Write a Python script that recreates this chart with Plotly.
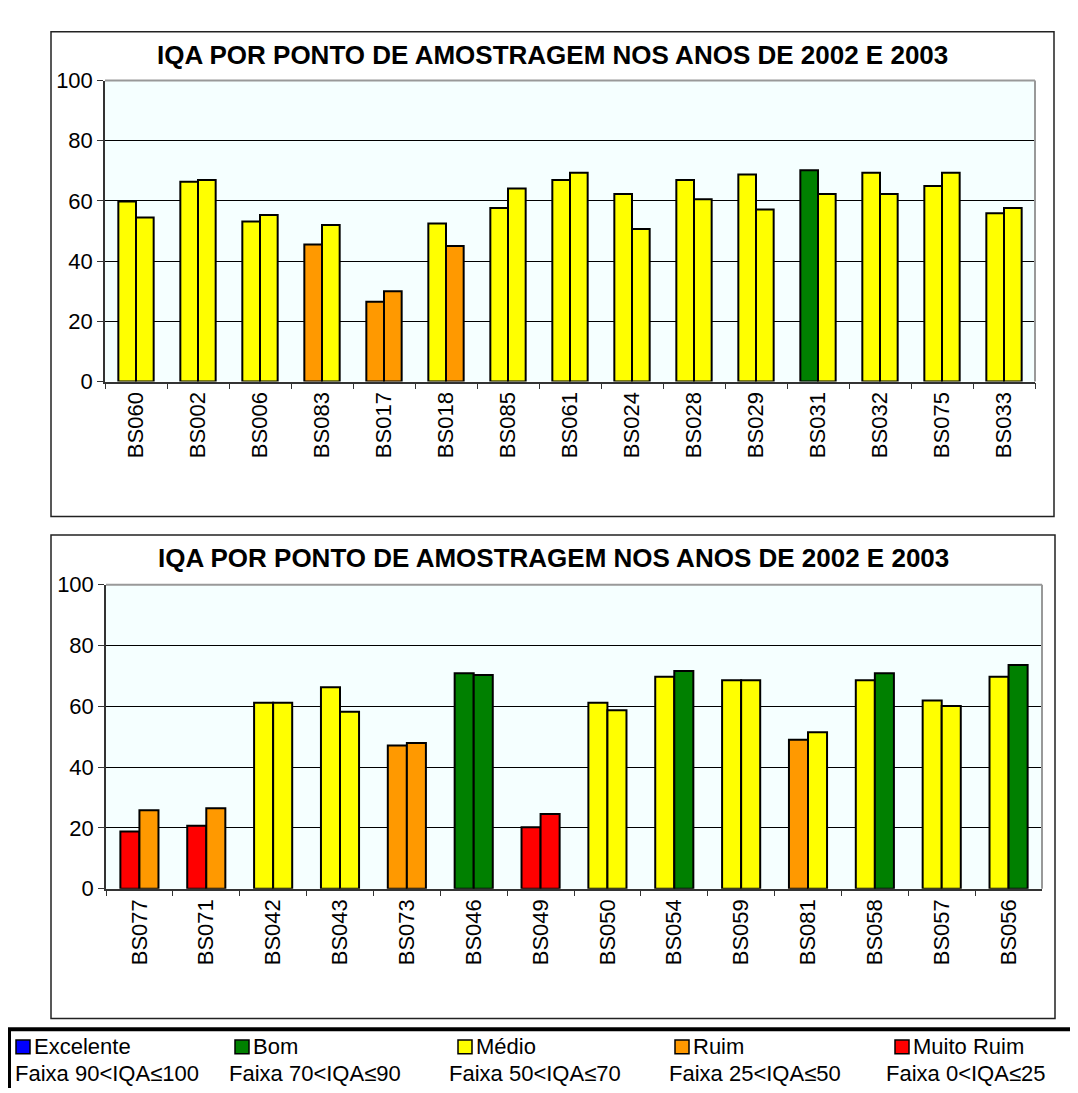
import plotly.graph_objects as go

W, H = 1078, 1093

# ---------------- data ----------------
cats_top = ["BS060", "BS002", "BS006", "BS083", "BS017", "BS018", "BS085", "BS061",
            "BS024", "BS028", "BS029", "BS031", "BS032", "BS075", "BS033"]
top_2002 = [59.8, 66.4, 53.2, 45.5, 26.5, 52.5, 57.7, 67.0, 62.3, 67.0, 68.8, 70.2, 69.4, 65.0, 55.9]
top_2003 = [54.5, 67.0, 55.3, 52.0, 30.0, 45.0, 64.1, 69.4, 50.7, 60.6, 57.2, 62.3, 62.3, 69.4, 57.7]

cats_bot = ["BS077", "BS071", "BS042", "BS043", "BS073", "BS046", "BS049",
            "BS050", "BS054", "BS059", "BS081", "BS058", "BS057", "BS056"]
bot_2002 = [18.8, 20.7, 61.2, 66.3, 47.1, 70.9, 20.2, 61.2, 69.7, 68.6, 49.0, 68.6, 61.9, 69.7]
bot_2003 = [25.8, 26.5, 61.2, 58.2, 47.9, 70.3, 24.6, 58.7, 71.6, 68.6, 51.5, 70.9, 60.1, 73.6]

y_ticks = [0, 20, 40, 60, 80, 100]

class_names = ["Excelente", "Bom", "Médio", "Ruim", "Muito Ruim"]
class_ranges = ["Faixa 90<IQA≤100", "Faixa 70<IQA≤90", "Faixa 50<IQA≤70",
                "Faixa 25<IQA≤50", "Faixa 0<IQA≤25"]
class_lower = [90, 70, 50, 25, 0]
class_colors = ["#0000FF", "#008000", "#FFFF00", "#FF9900", "#FF0000"]

TITLE = "IQA POR PONTO DE AMOSTRAGEM NOS ANOS DE 2002 E 2003"


def color_of(v):
    for lo, c in zip(class_lower, class_colors):
        if v > lo:
            return c
    return class_colors[-1]


def px(x):
    return x / W


def py(y):
    return 1 - y / H


FONT = "Arial, Liberation Sans, sans-serif"

fig = go.Figure()

for cats, s02, s03, xa, ya in [(cats_top, top_2002, top_2003, "x", "y"),
                               (cats_bot, bot_2002, bot_2003, "x2", "y2")]:
    for name, vals in [("2002", s02), ("2003", s03)]:
        fig.add_trace(go.Bar(
            x=cats, y=vals, name=name, xaxis=xa, yaxis=ya,
            marker=dict(color=[color_of(v) for v in vals],
                        line=dict(color="#000000", width=2)),
            showlegend=False, hoverinfo="x+y",
        ))

# plot area geometry (pixels)
top_plot = dict(x0=97, x1=1027, y0=62, y1=370)
bot_plot = dict(x0=98, x1=1034, y0=578, y1=889)
top_box = dict(x0=43, x1=1046, y0=12, y1=508)
bot_box = dict(x0=43, x1=1047, y0=527, y1=1022)

axis_common = dict(
    tickfont=dict(family=FONT, size=22, color="#000000"),
    showline=True, linecolor="#333333", linewidth=1.5,
    ticks="outside", ticklen=6, tickcolor="#333333", tickwidth=1.2,
)

yaxis_common = dict(
    range=[0, 100], tickvals=y_ticks, showgrid=True, gridcolor="#000000",
    gridwidth=1, zeroline=False, fixedrange=True, **axis_common,
)
xaxis_common = dict(
    type="category", tickangle=-90, tickson="boundaries", showgrid=False,
    fixedrange=True, **axis_common,
)

fig.update_layout(
    width=W, height=H, autosize=False,
    margin=dict(l=0, r=0, t=0, b=0),
    paper_bgcolor="#FFFFFF", plot_bgcolor="#F5FFFF",
    barmode="group", bargap=0.43, bargroupgap=0.0,
    xaxis=dict(domain=[px(top_plot["x0"]), px(top_plot["x1"])], anchor="y", **xaxis_common),
    yaxis=dict(domain=[py(top_plot["y1"]), py(top_plot["y0"])], anchor="x", **yaxis_common),
    xaxis2=dict(domain=[px(bot_plot["x0"]), px(bot_plot["x1"])], anchor="y2", **xaxis_common),
    yaxis2=dict(domain=[py(bot_plot["y1"]), py(bot_plot["y0"])], anchor="x2", **yaxis_common),
)

shapes = []
annotations = []

# outer boxes
for b in (top_box, bot_box):
    shapes.append(dict(type="rect", xref="paper", yref="paper",
                       x0=px(b["x0"]), x1=px(b["x1"]), y0=py(b["y1"]), y1=py(b["y0"]),
                       line=dict(color="#222222", width=1.5), fillcolor="rgba(0,0,0,0)",
                       layer="below"))

# gray top/right borders of plot areas
for p in (top_plot, bot_plot):
    shapes.append(dict(type="line", xref="paper", yref="paper",
                       x0=px(p["x0"]), x1=px(p["x1"]), y0=py(p["y0"]), y1=py(p["y0"]),
                       line=dict(color="#999999", width=2)))
    shapes.append(dict(type="line", xref="paper", yref="paper",
                       x0=px(p["x1"]), x1=px(p["x1"]), y0=py(p["y0"]), y1=py(p["y1"]),
                       line=dict(color="#999999", width=2)))

# titles
for b, ty in ((top_box, 36), (bot_box, 551)):
    annotations.append(dict(text="<b>" + TITLE + "</b>", xref="paper", yref="paper",
                            x=px((b["x0"] + b["x1"]) / 2), y=py(ty),
                            xanchor="center", yanchor="middle", showarrow=False,
                            font=dict(family=FONT, size=26, color="#000000")))

# legend block at bottom
shapes.append(dict(type="line", xref="paper", yref="paper",
                   x0=0, x1=1, y0=py(1033), y1=py(1033),
                   line=dict(color="#000000", width=4)))
shapes.append(dict(type="line", xref="paper", yref="paper",
                   x0=px(1.5), x1=px(1.5), y0=py(1033), y1=0,
                   line=dict(color="#000000", width=3)))

sq_x = [8, 227, 450, 667, 887]
txt2_x = [5, 219, 439, 659, 876]
row1_y = 1051
row2_y = 1078
sq = 14
for i in range(5):
    x0 = sq_x[i]
    shapes.append(dict(type="rect", xref="paper", yref="paper",
                       x0=px(x0), x1=px(x0 + sq), y0=py(row1_y + sq / 2), y1=py(row1_y - sq / 2),
                       line=dict(color="#000000", width=1.5), fillcolor=class_colors[i]))
    annotations.append(dict(text=class_names[i], xref="paper", yref="paper",
                            x=px(x0 + sq + 2), y=py(row1_y), xanchor="left", yanchor="middle",
                            showarrow=False, font=dict(family=FONT, size=22, color="#000000")))
    annotations.append(dict(text=class_ranges[i], xref="paper", yref="paper",
                            x=px(txt2_x[i]), y=py(row2_y), xanchor="left", yanchor="middle",
                            showarrow=False, font=dict(family=FONT, size=22, color="#000000")))

fig.update_layout(shapes=shapes, annotations=annotations)

fig.write_html("out.html")
